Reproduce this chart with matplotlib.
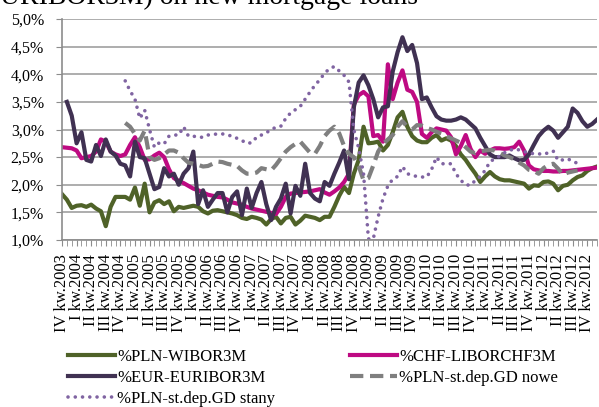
import numpy as np
import matplotlib
matplotlib.use('Agg')
import matplotlib.pyplot as plt
from matplotlib.ticker import FuncFormatter

nan = np.nan

# miesiace od X.2003 do XII.2012
months = list(range(111))

roman = ['I', 'II', 'III', 'IV']
quarter_pos = list(range(0, 111, 3))
quarter_labels = [f'{roman[(3 + k) % 4]} kw.{2003 + (3 + k) // 4}' for k in range(len(quarter_pos))]

wibor = [
    1.83, 1.73, 1.58, 1.62, 1.63, 1.60, 1.64, 1.57, 1.52, 1.25,
    1.60, 1.78, 1.78, 1.78, 1.73, 1.95, 1.62, 2.02, 1.50, 1.68,
    1.72, 1.65, 1.70, 1.52, 1.60, 1.58, 1.60, 1.62, 1.60, 1.52,
    1.48, 1.53, 1.54, 1.52, 1.50, 1.48, 1.45, 1.40, 1.38, 1.42,
    1.40, 1.37, 1.28, 1.38, 1.42, 1.30, 1.40, 1.42, 1.28, 1.35,
    1.44, 1.42, 1.40, 1.36, 1.42, 1.42, 1.60, 1.80, 1.96, 1.85,
    2.20, 2.45, 3.05, 2.75, 2.76, 2.78, 2.62, 2.72, 2.95, 3.22,
    3.32, 3.05, 2.88, 2.80, 2.77, 2.77, 2.85, 2.90, 2.80, 2.84,
    2.80, 2.70, 2.55, 2.45, 2.32, 2.20, 2.05, 2.15, 2.23, 2.15,
    2.10, 2.08, 2.08, 2.06, 2.04, 2.02, 1.93, 1.99, 1.98, 2.05,
    2.06, 2.02, 1.90, 1.98, 2.00, 2.08, 2.14, 2.17, 2.25, 2.30, 2.33,
]

libor_chf = [
    2.68, 2.67, 2.66, 2.62, 2.48, 2.50, 2.52, 2.60, 2.82, 2.78,
    2.60, 2.55, 2.52, 2.55, 2.72, 2.86, 2.68, 2.45, 2.46, 2.53,
    2.58, 2.50, 2.28, 2.12, 2.07, 2.03, 1.98, 1.93, 1.90, 1.86,
    1.82, 1.80, 1.78, 1.77, 1.73, 1.68, 1.66, 1.64, 1.60, 1.57,
    1.55, 1.53, 1.51, 1.49, 1.47, 1.60, 1.78, 1.84, 1.85, 1.86,
    1.87, 1.88, 1.90, 1.92, 1.86, 1.82, 1.88, 1.95, 2.05, 2.20,
    3.45, 3.62, 3.68, 3.60, 2.88, 2.90, 2.78, 4.18, 3.55, 3.85,
    4.07, 3.72, 3.68, 3.50, 2.92, 2.85, 2.95, 3.02, 3.00, 2.98,
    2.86, 2.55, 2.70, 2.90, 2.65, 2.50, 2.62, 2.56, 2.62, 2.66,
    2.66, 2.65, 2.66, 2.68, 2.78, 2.62, 2.35, 2.28, 2.26, 2.25,
    2.25, 2.24, 2.24, 2.25, 2.25, 2.26, 2.27, 2.28, 2.29, 2.30, 2.31,
]

euribor = [
    nan, 3.50, 3.25, 2.75, 2.95, 2.45, 2.42, 2.72, 2.52, 2.82,
    2.60, 2.53, 2.38, 2.35, 2.15, 2.78, 2.50, 2.48, 2.20, 1.92,
    1.96, 2.30, 2.15, 2.20, 2.00, 2.20, 2.30, 2.60, 1.65, 1.90,
    1.60, 1.73, 1.85, 1.85, 1.50, 1.78, 1.88, 1.45, 1.93, 1.58,
    1.85, 2.05, 1.65, 1.36, 1.60, 1.75, 2.02, 1.48, 1.98, 1.80,
    2.38, 1.85, 1.75, 1.70, 2.05, 1.98, 2.20, 2.40, 2.62, 2.10,
    3.40, 3.85, 3.98, 3.80, 3.55, 3.22, 3.40, 3.42, 4.05, 4.40,
    4.67, 4.42, 4.53, 4.20, 3.55, 3.58, 3.40, 3.24, 3.18, 3.16,
    3.16, 3.18, 3.22, 3.18, 3.10, 3.02, 2.85, 2.70, 2.55, 2.50,
    2.50, 2.50, 2.53, 2.48, 2.44, 2.45, 2.55, 2.72, 2.88, 2.98,
    3.05, 2.98, 2.85, 2.95, 3.05, 3.38, 3.30, 3.15, 3.05, 3.10, 3.18,
]

gd_nowe = [
    nan, nan, nan, nan, nan, nan, nan, nan, nan, nan,
    nan, nan, nan, 3.12, 3.05, 2.92, 2.80, 2.98, 2.50, 2.45,
    2.48, 2.55, 2.62, 2.62, 2.58, 2.48, 2.40, 2.38, 2.36, 2.33,
    2.34, 2.38, 2.42, 2.41, 2.38, 2.36, 2.34, 2.26, 2.20, 2.20,
    2.22, 2.30, 2.28, 2.26, 2.36, 2.48, 2.60, 2.68, 2.74, 2.78,
    2.68, 2.58, 2.56, 2.70, 2.88, 2.98, 3.05, 2.93, 2.70, 2.56,
    2.50, 2.34, 2.08, 2.12, 2.35, 2.60, 2.74, 2.82, 2.90, 3.05,
    3.15, 3.05, 3.00, 3.08, 3.07, 3.03, 3.00, 2.96, 2.93, 2.88,
    2.84, 2.80, 2.76, 2.68, 2.60, 2.57, 2.60, 2.62, 2.63, 2.62,
    2.58, 2.53, 2.50, 2.46, 2.40, 2.35, 2.27, 2.25, 2.20, 2.30,
    2.36, 2.38, 2.29, 2.18, 2.22, 2.24, 2.26, nan, nan, nan, nan,
]

gd_stany = [
    nan, nan, nan, nan, nan, nan, nan, nan, nan, nan,
    nan, nan, nan, 3.88, 3.70, 3.55, 3.20, 3.35, 3.00, 2.68,
    2.76, 2.74, 2.88, 2.90, 2.90, 3.05, 2.88, 2.88, 2.86, 2.86,
    2.90, 2.91, 2.92, 2.92, 2.90, 2.88, 2.84, 2.80, 2.75, 2.76,
    2.86, 2.90, 2.94, 3.00, 3.04, 3.06, 3.20, 3.30, 3.36, 3.42,
    3.55, 3.68, 3.80, 3.90, 4.02, 4.10, 4.14, 4.06, 3.98, 3.86,
    3.00, 2.66, 2.20, 1.02, 1.02, 1.42, 1.75, 1.98, 2.10, 2.15,
    2.33, 2.20, 2.17, 2.15, 2.14, 2.14, 2.28, 2.50, 2.38, 2.38,
    2.38, 2.20, 2.08, 2.00, 1.99, 2.08, 2.15, 2.26, 2.42, 2.47,
    2.52, 2.58, 2.62, 2.65, 2.63, 2.60, 2.58, 2.56, 2.56, 2.55,
    2.58, 2.61, 2.44, 2.45, 2.47, 2.42, 2.39, nan, nan, nan, nan,
]

plt.rcParams['font.family'] = ['Liberation Serif', 'DejaVu Serif']

fig = plt.figure(figsize=(5.99, 4.07), dpi=100)
ax = fig.add_axes([62 / 599, 1 - 240 / 407, 535 / 599, 221 / 407])

grid_col = '#A0A0A0'
ax.set_axisbelow(True)
ax.yaxis.grid(True, color=grid_col, linewidth=1.2)

l1, = ax.plot(months, wibor, color='#4F6228', lw=3, solid_joinstyle='round', label='%PLN-WIBOR3M')
l2, = ax.plot(months, libor_chf, color='#BE0A82', lw=3, solid_joinstyle='round', label='%CHF-LIBORCHF3M')
l3, = ax.plot(months, euribor, color='#403152', lw=3, solid_joinstyle='round', label='%EUR-EURIBOR3M')
l4, = ax.plot(months, gd_nowe, color='#7F7F7F', lw=3, linestyle=(0, (3.2, 1.6)),
              dash_capstyle='butt', label='%PLN-st.dep.GD nowe')
l5, = ax.plot(months, gd_stany, color='#8064A2', lw=2.6, linestyle=(0, (0.01, 2)),
              dash_capstyle='round', label='%PLN-st.dep.GD stany')

ax.set_xlim(0, 110)
ax.set_ylim(1.0, 5.0)
ax.set_yticks(np.arange(1.0, 5.01, 0.5))
ax.yaxis.set_major_formatter(FuncFormatter(lambda v, p: f'{v:.1f}%'.replace('.', ',')))
ax.set_xticks(quarter_pos)
ax.set_xticklabels(quarter_labels, rotation=90, fontsize=12)
ax.set_xticks(months, minor=True)

for s in ['top', 'right']:
    ax.spines[s].set_visible(False)
for s in ['left', 'bottom']:
    ax.spines[s].set_color('#8C8C8C')
    ax.spines[s].set_linewidth(1.2)
ax.tick_params(axis='y', length=4, color='#8C8C8C', pad=9, labelsize=11.5)
ax.tick_params(axis='x', which='both', length=4, color='#8C8C8C', pad=6)

fig.legend(handles=[l1, l3, l5, l2, l4], loc='upper left',
           bbox_to_anchor=(68 / 599, 1 - 349 / 407), ncol=2, frameon=False,
           fontsize=12, handlelength=2.8, handletextpad=0.15,
           columnspacing=4.5, labelspacing=0.3, borderpad=0, borderaxespad=0)

fig.text(418 / 599, 1 - 4 / 407, 'EURIBOR3M) on new mortgage loans', ha='right',
         va='baseline', fontsize=20)

fig.savefig('out.png', dpi=100)
